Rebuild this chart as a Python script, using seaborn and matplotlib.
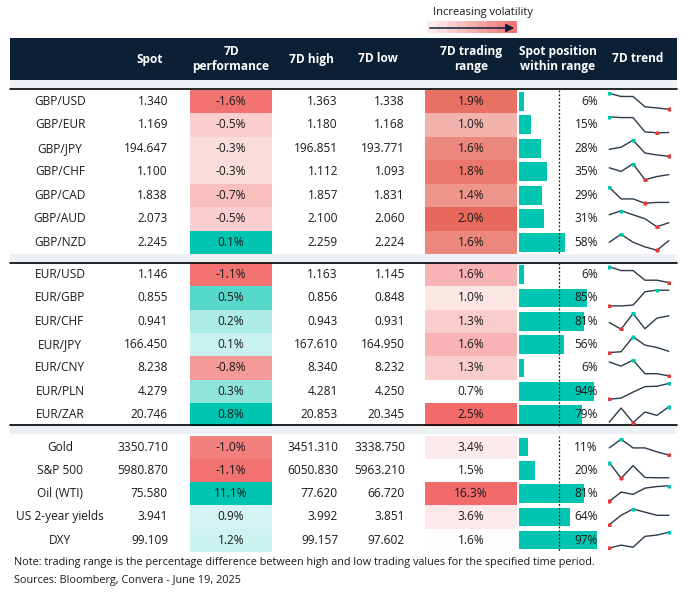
import numpy as np
import pandas as pd
import matplotlib
matplotlib.use("Agg")
import matplotlib.pyplot as plt
import matplotlib.colors as mcolors
from matplotlib.patches import Rectangle
import seaborn as sns

sns.set_theme(style="white")
plt.rcParams['font.family'] = ['Open Sans', 'DejaVu Sans']

groups = [
    ["GBP/USD", "GBP/EUR", "GBP/JPY", "GBP/CHF", "GBP/CAD", "GBP/AUD", "GBP/NZD"],
    ["EUR/USD", "EUR/GBP", "EUR/CHF", "EUR/JPY", "EUR/CNY", "EUR/PLN", "EUR/ZAR"],
    ["Gold", "S&P 500", "Oil (WTI)", "US 2-year yields", "DXY"],
]
spot = ["1.340", "1.169", "194.647", "1.100", "1.838", "2.073", "2.245",
        "1.146", "0.855", "0.941", "166.450", "8.238", "4.279", "20.746",
        "3350.710", "5980.870", "75.580", "3.941", "99.109"]
perf = [-1.6, -0.5, -0.3, -0.3, -0.7, -0.5, 0.1,
        -1.1, 0.5, 0.2, 0.1, -0.8, 0.3, 0.8,
        -1.0, -1.1, 11.1, 0.9, 1.2]
high = ["1.363", "1.180", "196.851", "1.112", "1.857", "2.100", "2.259",
        "1.163", "0.856", "0.943", "167.610", "8.340", "4.281", "20.853",
        "3451.310", "6050.830", "77.620", "3.992", "99.157"]
low = ["1.338", "1.168", "193.771", "1.093", "1.831", "2.060", "2.224",
       "1.145", "0.848", "0.931", "164.950", "8.232", "4.250", "20.345",
       "3338.750", "5963.210", "66.720", "3.851", "97.602"]
trange = [1.9, 1.0, 1.6, 1.8, 1.4, 2.0, 1.6,
          1.6, 1.0, 1.3, 1.6, 1.3, 0.7, 2.5,
          3.4, 1.5, 16.3, 3.6, 1.6]
position = [6, 15, 28, 35, 29, 31, 58,
            6, 85, 81, 56, 6, 94, 79,
            11, 20, 81, 64, 97]
trend = [
    [1.0, 0.8, 0.8, 0.15, 0.08, 0.0],
    [1.0, 0.95, 0.95, 0.05, 0.0, 0.01],
    [0.43, 0.57, 1.0, 0.2, 0.08, 0.0],
    [0.75, 0.52, 1.0, 0.0, 0.2, 0.32],
    [1.0, 0.27, 0.27, 0.0, 0.05, 0.05],
    [0.75, 1.0, 0.75, 0.5, 0.0, 0.25],
    [0.5, 1.0, 0.5, 0.21, 0.0, 0.6],
    [1.0, 0.76, 0.76, 0.15, 0.15, 0.0],
    [0.0, 0.0, 0.05, 0.89, 1.0, 0.99],
    [0.43, 0.0, 1.0, 0.03, 0.7, 0.85],
    [0.0, 0.05, 1.0, 0.47, 0.32, 0.08],
    [0.88, 0.62, 1.0, 0.14, 0.14, 0.0],
    [0.0, 0.07, 0.45, 0.8, 0.82, 1.0],
    [0.02, 0.92, 0.0, 0.67, 0.45, 1.0],
    [0.45, 1.0, 0.45, 0.45, 0.2, 0.0],
    [1.0, 0.0, 0.8, 0.05, 0.03, 0.03],
    [0.0, 0.6, 0.45, 0.85, 0.95, 1.0],
    [0.0, 0.6, 1.0, 0.8, 0.6, 0.6],
    [0.0, 0.18, 0.05, 0.74, 0.82, 1.0],
]
headers = ["Spot", "7D\nperformance", "7D high", "7D low", "7D trading\nrange",
           "Spot position\nwithin range", "7D trend"]

W, H = 699, 610
fig = plt.figure(figsize=(W / 100, H / 100), dpi=100)
ax = fig.add_axes([0, 0, 1, 1])
ax.set_xlim(0, W)
ax.set_ylim(H, 0)
ax.axis("off")

DARK = "#0b1f35"
TEAL = "#00c5b0"
RED = "#f26a6a"
GRAY = "#eef1f3"
TXT = "#1a1a1a"
FS = 8.6

# top legend
ax.text(483, 12, "Increasing volatility", ha="center", va="center", fontsize=8, color=TXT)
for i in range(9):
    c = mcolors.to_rgba(RED, 0.12 + 0.1 * i)
    ax.add_patch(Rectangle((427 + i * 10, 21), 10, 12, color=c, lw=0))
ax.annotate("", xy=(517, 28), xytext=(427, 28),
            arrowprops=dict(arrowstyle="-|>", color=DARK, lw=1.1, mutation_scale=12))

# header
ax.add_patch(Rectangle((10, 38), 667, 42, color=DARK, lw=0))
hx = [150, 231, 311, 378, 471, 558, 638]
for x, h in zip(hx, headers):
    ax.text(x, 59, h, ha="center", va="center", color="white", fontsize=FS,
            fontweight="bold", linespacing=1.25)

geom = [(89.5, 23.5), (263, 23.33), (435.5, 23.25)]
strips = [(80, 88), (254, 262), (425, 434)]
for s0, s1 in strips:
    ax.add_patch(Rectangle((10, s0), 667, s1 - s0, color=GRAY, lw=0))
for yline in [88.5, 262.5, 424.5]:
    ax.plot([10, 677], [yline, yline], color="black", lw=1.2)

perf_arr = np.array(perf)
tr_arr = np.array(trange)
idx = 0
for g, (pairs, (top, rh)) in enumerate(zip(groups, geom)):
    n = len(pairs)
    ids = list(range(idx, idx + n))
    pv = perf_arr[ids]
    tv = tr_arr[ids]
    negmax = max(1e-9, -pv.min())
    posmax = max(1e-9, pv.max())
    tmin, tmax = tv.min(), tv.max()
    for k, i in enumerate(ids):
        y0 = top + k * rh
        yc = y0 + rh / 2
        ax.text(60, yc, pairs[k], ha="center", va="center", fontsize=FS, color=TXT)
        ax.text(168, yc, spot[i], ha="right", va="center", fontsize=FS, color=TXT)
        p = perf[i]
        if p < 0:
            a = 0.12 + 0.83 * (-p / negmax) ** 1.2
            col = mcolors.to_rgba(RED, a)
        else:
            a = 0.1 + 0.9 * (p / posmax)
            col = mcolors.to_rgba(TEAL, a)
        ax.add_patch(Rectangle((190, y0), 82, rh, color=col, lw=0))
        ax.text(231, yc, f"{p:.1f}%", ha="center", va="center", fontsize=FS, color=TXT)
        ax.text(338, yc, high[i], ha="right", va="center", fontsize=FS, color=TXT)
        ax.text(405, yc, low[i], ha="right", va="center", fontsize=FS, color=TXT)
        t = trange[i]
        frac = (t - tmin) / (tmax - tmin)
        if g == 0:
            a = 0.5 + 0.5 * frac
            c = "#e8695c"
        else:
            a = frac
            c = RED
        ax.add_patch(Rectangle((425, y0), 92, rh, color=mcolors.to_rgba(c, min(a, 1)), lw=0))
        ax.text(471, yc, f"{t:.1f}%", ha="center", va="center", fontsize=FS, color=TXT)
        ax.barh(yc, position[i] * 0.8, left=519, height=rh * 0.8, color=TEAL, lw=0)
        ax.text(598, yc, f"{position[i]}%", ha="right", va="center", fontsize=FS, color=TXT)
        fx0, fx1 = 608 / W, 670 / W
        fy0 = 1 - (y0 + rh - 2.5) / H
        fh = (rh - 5) / H
        sax = fig.add_axes([fx0, fy0, fx1 - fx0, fh])
        df = pd.DataFrame({"x": range(6), "y": trend[i]})
        sns.lineplot(data=df, x="x", y="y", ax=sax, color="#2b3a4a", lw=1.0)
        ymax = int(np.argmax(trend[i])); ymin = int(np.argmin(trend[i]))
        sax.plot([ymax], [trend[i][ymax]], "o", ms=3.2, color=TEAL, zorder=3, mew=0)
        sax.plot([ymin], [trend[i][ymin]], "o", ms=3.2, color="#e03c3c", zorder=3, mew=0)
        sax.set_xlim(-0.1, 5.1)
        sax.set_ylim(-0.08, 1.08)
        sax.axis("off")
    ax.plot([559, 559], [top, top + n * rh], color=TXT, lw=0.9, ls=(0, (1.5, 1.5)))
    idx += n

ax.text(14, 563, "Note: trading range is the percentage difference between high and low trading values for the specified time period.",
        ha="left", va="center", fontsize=7.8, color=TXT)
ax.text(14, 580, "Sources: Bloomberg, Convera - June 19, 2025",
        ha="left", va="center", fontsize=7.8, color=TXT)

fig.savefig("out.png", dpi=100)
